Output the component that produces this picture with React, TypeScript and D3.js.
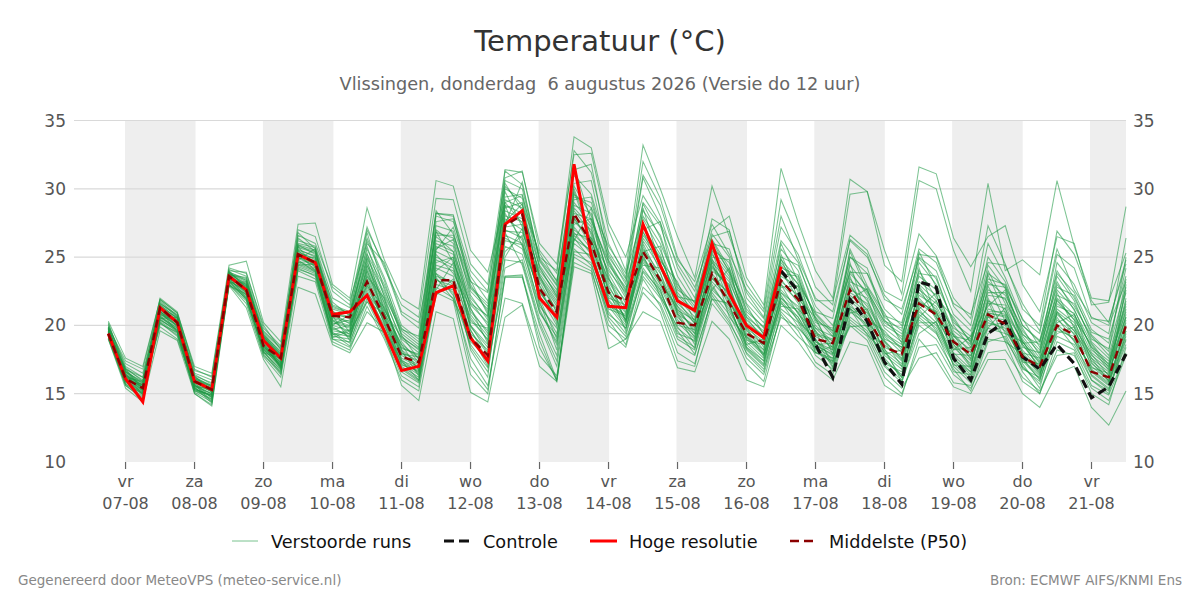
import React from "react";
import * as d3 from "d3";

const dayNames = ["vr","za","zo","ma","di","wo","do","vr","za","zo","ma","di","wo","do","vr"];
const dayDates = ["07-08","08-08","09-08","10-08","11-08","12-08","13-08","14-08","15-08","16-08","17-08","18-08","19-08","20-08","21-08"];
const yTicks = [10,15,20,25,30,35];
const shadedDays = [0,2,4,6,8,10,12,14];

const hres = [19.4,16.1,14.4,21.3,20.2,15.9,15.3,23.6,22.6,18.9,17.6,25.2,24.6,20.8,21.0,22.2,19.6,16.7,17.0,22.4,22.9,19.1,17.4,27.4,28.4,22.0,20.6,31.8,25.1,21.4,21.3,27.4,24.4,21.8,21.1,26.0,22.3,20.0,19.1,24.3];
const controlOffset = 39;
const control = [24.0,22.5,18.6,16.2,21.9,20.3,17.3,15.7,23.2,22.8,17.6,16.0,19.4,20.3,17.7,16.8,18.6,17.2,14.7,15.5,17.9];
const p50 = [19.4,16.1,15.4,21.3,20.2,15.9,15.3,23.6,22.6,18.5,17.6,25.2,24.6,20.7,20.6,23.2,20.6,17.7,17.3,23.3,23.3,19.1,17.8,27.3,28.1,22.7,21.0,28.2,26.0,22.4,21.8,25.4,23.3,20.2,20.0,23.8,21.6,19.4,18.7,23.3,21.9,19.0,18.7,22.6,20.6,18.4,17.9,21.6,20.8,18.8,17.9,20.8,20.1,17.7,17.0,20.0,19.3,16.6,16.2,20.0];

const m01 = [20.3,17.6,17.0,21.9,20.9,17.0,16.5,24.4,24.7,20.2,18.8,27.4,27.5,23.0,22.0,28.6,24.8,22.0,21.2,30.6,30.2,25.5,23.9,29.0,29.5,25.0,24.0,33.8,33.0,27.5,25.0,29.5,27.5,24.5,22.5,27.0,28.0,23.5,21.5,31.5,27.5,24.0,22.0,30.7,29.8,24.4,23.2,31.6,31.1,26.4,24.3,26.5,27.3,23.0,21.0,26.5,26.0,21.5,21.7,28.7];
const m02 = [19.9,17.2,16.5,21.5,20.5,16.5,16.0,24.2,23.8,20.0,18.2,27.0,26.5,22.5,21.5,27.2,24.2,21.5,20.6,29.3,29.2,24.5,23.0,31.4,31.2,26.0,24.5,32.5,32.6,27.0,24.0,33.2,30.0,26.5,23.5,30.2,26.5,23.0,21.2,29.2,26.2,22.8,21.5,29.6,29.8,25.5,22.3,30.6,30.0,25.5,22.5,30.4,24.0,24.8,23.7,30.6,25.8,22.0,21.8,25.3];
const m03 = [20.1,17.0,16.2,22.0,21.0,16.8,16.2,24.0,23.9,19.8,18.5,26.2,25.8,22.0,21.3,27.0,24.4,20.8,19.8,28.2,28.0,24.0,22.5,30.8,31.3,25.5,23.8,32.8,31.2,26.0,23.5,32.0,29.3,25.0,22.8,26.5,26.9,22.4,20.6,27.2,25.2,21.8,21.8,26.6,25.5,22.5,21.8,26.7,25.1,22.0,20.5,27.3,24.5,21.2,20.0,26.9,25.2,21.8,20.2,24.8];
const m04 = [19.7,16.8,16.0,21.0,20.2,16.3,15.8,23.8,23.3,19.4,18.0,26.0,25.7,21.5,21.0,26.4,23.5,20.0,19.0,28.0,27.6,23.6,21.8,30.2,28.8,25.3,23.2,31.4,31.8,25.2,23.0,30.8,28.0,24.2,22.0,27.8,27.0,22.0,20.5,26.2,24.6,21.0,20.5,26.3,25.2,21.9,21.2,25.2,25.0,21.4,20.0,26.0,23.5,20.4,19.4,25.2,24.2,20.5,20.3,24.5];
const m05 = [19.5,16.6,15.9,21.6,20.8,16.1,15.6,23.9,23.4,19.0,17.8,25.8,25.4,21.2,20.8,25.6,23.0,19.8,18.8,26.8,26.4,22.5,21.2,29.4,29.6,24.4,22.6,30.4,30.6,24.8,22.6,29.0,27.3,23.6,21.6,26.0,25.6,21.6,20.2,25.6,24.0,20.4,19.6,25.0,23.8,21.2,20.0,25.0,24.0,20.8,19.6,23.4,23.0,20.0,18.8,24.0,22.0,19.5,19.0,23.6];
const m06 = [19.6,16.4,15.6,21.1,20.4,16.0,15.4,23.7,23.5,19.2,17.9,25.9,25.2,20.4,20.0,25.0,22.4,19.4,18.4,28.2,28.1,23.0,21.0,31.3,30.3,24.9,23.3,29.6,28.6,25.8,23.8,28.0,26.0,23.0,21.4,26.3,24.2,21.2,19.8,24.8,23.4,20.6,19.2,24.4,22.8,20.6,19.6,24.6,23.0,20.4,18.8,23.0,22.8,20.5,18.4,22.2,21.6,19.0,18.3,22.8];
const m07 = [19.8,16.2,15.4,20.8,20.0,15.7,15.2,23.4,22.8,19.1,17.6,25.6,25.0,21.0,20.6,24.6,21.9,19.0,18.0,27.0,26.0,22.0,20.6,30.0,29.3,24.2,22.2,30.2,28.0,24.2,22.0,27.8,25.5,22.4,21.0,25.2,23.6,20.6,19.6,24.4,23.0,20.2,19.8,23.8,22.4,20.0,19.2,23.6,22.6,19.6,18.6,23.2,22.2,19.8,17.8,23.6,21.8,18.8,17.6,21.6];
const m08 = [19.3,16.0,15.2,21.2,20.1,15.5,15.0,23.5,22.6,18.6,17.3,25.4,24.8,20.2,19.8,24.2,21.4,18.4,17.8,25.8,25.2,21.5,20.2,29.2,28.6,23.6,21.8,29.0,27.4,23.8,21.6,26.8,25.0,22.0,20.6,24.8,23.4,20.0,19.0,23.6,22.8,19.8,18.6,23.4,21.8,19.4,18.6,23.0,21.8,19.2,18.2,22.2,22.0,19.0,17.4,22.0,20.8,18.4,17.4,21.0];
const m09 = [19.2,15.8,15.0,20.9,19.9,15.4,14.8,23.3,22.4,18.4,17.1,25.1,24.6,20.0,19.6,23.8,21.0,18.0,17.4,25.4,24.8,21.0,19.6,28.4,27.8,23.2,21.0,28.4,26.8,23.2,21.2,26.2,24.2,21.4,20.2,24.4,22.6,19.6,18.6,23.0,21.8,19.2,18.4,22.8,21.4,19.2,18.0,22.4,21.2,18.8,17.8,21.6,21.5,18.6,17.0,21.6,20.6,18.0,17.0,20.6];
const m10 = [19.6,16.5,15.5,20.6,19.7,15.9,15.1,23.2,22.2,18.8,17.4,24.9,24.4,20.5,20.2,23.4,20.6,17.6,17.0,24.8,24.2,20.4,19.0,27.8,27.0,22.6,20.4,27.8,26.2,22.8,21.0,25.6,23.8,21.0,19.8,23.8,22.2,19.2,18.2,22.4,21.4,18.8,18.0,22.0,20.9,18.8,17.6,22.0,20.6,18.4,17.2,21.2,20.8,18.2,16.8,21.0,20.0,17.6,16.6,20.2];
const m11 = [19.4,16.3,15.8,20.4,19.6,15.3,14.9,23.0,22.0,18.2,17.0,24.7,24.2,19.6,19.4,23.0,20.2,17.3,16.6,24.2,23.6,20.0,18.6,27.0,26.4,22.2,20.0,27.2,25.6,22.2,20.6,25.0,23.2,20.6,19.4,23.2,21.8,19.0,17.8,22.0,21.0,18.4,17.6,21.4,20.5,18.2,17.2,21.4,20.2,18.0,16.8,20.6,20.4,17.8,16.4,20.4,19.4,17.2,16.2,19.6];
const m12 = [19.1,15.9,14.9,20.7,19.8,15.2,14.6,23.1,22.1,18.0,16.8,24.5,24.0,19.2,19.0,22.6,19.8,17.0,16.2,23.6,23.2,19.4,18.2,26.4,25.6,21.6,19.4,26.8,25.2,21.8,20.2,24.6,22.8,20.2,19.0,22.8,21.2,18.6,17.4,21.6,20.6,18.2,17.2,21.0,20.1,17.8,16.8,20.8,19.8,17.6,16.4,20.2,19.8,17.4,16.1,19.8,19.0,16.8,15.8,19.0];
const m13 = [19.0,15.6,14.6,20.3,19.4,15.1,14.4,23.0,21.8,17.8,16.6,24.3,23.8,19.0,18.8,22.0,19.4,16.6,15.8,23.0,22.6,18.8,17.6,25.8,25.2,21.0,18.8,26.4,24.8,21.4,19.8,24.2,22.4,19.8,18.8,22.4,20.8,18.2,17.0,21.2,20.2,17.8,16.8,20.6,19.6,17.4,16.4,20.4,19.4,17.2,16.0,19.8,19.4,17.0,15.7,19.2,18.6,16.4,15.4,18.6];
const m14 = [19.0,15.4,14.4,19.6,18.9,15.0,14.1,22.9,21.3,17.5,15.5,22.8,22.3,18.6,18.0,20.2,19.5,15.6,14.5,21.0,20.5,15.1,14.4,20.6,21.5,17.0,15.9,24.3,23.8,18.3,19.0,21.0,20.3,16.9,16.6,20.3,19.0,16.0,15.5,20.0,18.8,17.0,16.0,18.8,18.5,15.6,14.8,19.0,17.5,15.5,15.0,17.5,17.5,15.0,14.0,16.5,17.0,14.0,12.7,15.2];
const m15 = [19.2,15.6,14.7,20.5,19.5,15.0,14.2,23.0,21.6,17.7,16.2,23.6,23.2,18.8,18.2,21.4,19.0,16.0,15.2,22.4,21.8,16.4,15.0,23.6,23.7,18.4,16.0,25.2,24.6,20.4,18.6,23.4,21.4,18.0,17.2,21.6,20.0,17.2,15.9,21.0,19.6,17.3,16.4,20.2,19.2,16.6,15.4,17.6,18.0,15.8,15.6,19.0,18.8,15.9,15.0,18.2,17.8,15.4,14.5,17.8];
const m16 = [19.3,15.9,15.1,20.2,19.2,15.3,14.5,23.2,21.9,18.3,16.9,24.0,23.4,19.4,18.5,21.8,19.2,16.3,15.5,22.8,22.0,17.6,15.6,22.0,21.6,17.8,16.3,24.6,24.0,20.0,19.0,22.4,21.0,17.4,17.0,22.2,20.4,17.6,16.4,20.8,19.2,18.0,17.6,20.0,18.9,16.2,15.0,18.4,18.6,16.4,15.4,18.0,18.2,16.2,15.2,17.8,18.0,15.0,14.2,18.4];
const m17 = [19.5,16.1,15.3,21.4,20.3,15.6,15.0,23.6,22.9,18.9,17.5,25.0,24.5,19.8,19.2,22.3,20.0,17.2,16.4,25.0,24.4,19.2,17.2,23.6,23.6,19.4,16.0,25.6,24.4,20.8,19.8,23.6,22.0,19.0,18.2,22.6,21.4,18.4,17.2,22.4,20.9,18.6,17.8,21.2,20.4,17.6,16.2,21.6,20.8,17.0,15.8,19.4,20.0,17.2,15.4,20.0,18.4,16.0,15.0,19.4];
const m18 = [19.8,16.7,15.7,21.7,20.6,16.2,15.5,23.4,23.0,19.3,18.1,25.3,24.9,20.6,20.3,24.0,21.2,18.6,17.6,26.0,25.4,21.8,20.0,26.6,26.0,22.4,20.8,28.0,27.0,22.6,20.4,26.4,24.6,21.2,19.6,24.2,22.8,19.8,18.8,23.2,22.2,19.6,18.2,23.0,21.0,19.0,18.4,22.2,21.4,19.0,17.6,21.8,21.2,18.8,17.2,21.2,20.2,17.8,16.8,22.0];
const m19 = [20.0,16.9,15.9,21.8,20.7,16.4,15.7,23.7,23.1,19.5,18.3,25.5,25.1,20.9,20.5,24.4,21.6,18.2,17.2,27.6,27.8,22.8,21.6,28.8,28.2,23.8,22.0,27.6,26.4,24.0,22.4,27.2,25.2,21.6,20.4,25.6,24.6,20.8,19.4,26.0,23.2,20.8,19.4,25.0,24.2,20.4,19.0,23.8,23.6,20.0,18.4,24.0,21.6,19.4,18.0,24.6,23.0,20.2,19.4,26.4];
const m20 = [19.4,16.0,15.0,21.0,20.0,15.8,15.3,23.3,22.5,18.7,17.2,25.2,24.7,20.3,19.9,23.6,20.8,17.8,17.1,24.4,24.0,20.6,18.9,27.2,27.4,22.9,20.2,28.6,27.2,22.4,20.9,24.9,23.0,20.4,19.2,23.4,22.4,19.4,18.0,23.4,21.6,18.8,18.2,22.2,21.2,18.6,17.4,21.8,20.9,18.6,17.4,20.9,20.7,18.0,16.6,20.8,19.6,17.4,16.4,21.2];
const m21 = [19.7,16.6,15.6,20.6,19.8,15.6,14.7,23.5,22.7,18.5,17.0,24.6,24.1,19.4,19.2,23.2,20.4,18.0,16.8,23.8,23.0,18.4,16.6,24.8,24.6,20.2,17.4,26.0,25.0,21.0,19.4,24.0,22.6,19.2,18.4,23.0,21.0,18.8,17.6,21.8,20.4,18.0,17.4,21.6,19.9,17.2,16.6,21.0,20.0,17.8,16.6,20.4,19.6,17.6,16.0,19.6,19.2,16.6,15.6,20.0];
const m22 = [19.3,16.3,15.2,21.3,20.2,16.0,15.4,23.8,23.2,18.9,17.7,25.0,24.3,21.4,20.9,25.2,22.8,19.2,18.2,26.2,25.8,20.8,19.2,28.0,27.6,24.0,22.4,29.2,29.4,24.6,22.2,28.4,26.6,22.8,21.2,25.0,24.8,20.2,19.2,23.8,22.6,19.4,19.0,24.0,22.2,19.8,18.8,23.2,22.2,19.4,18.0,22.6,21.9,19.2,17.6,22.6,21.2,18.2,17.2,21.4];
const m23 = [19.6,16.4,15.4,19.9,19.0,15.5,14.3,23.6,22.3,17.9,16.4,24.2,23.6,19.0,18.4,21.0,19.7,17.4,16.0,23.4,22.4,17.0,15.3,23.5,23.5,18.9,15.9,25.0,24.2,19.6,18.4,22.8,21.6,18.6,17.8,22.0,20.2,18.0,16.8,20.6,19.8,18.4,16.6,20.4,19.4,17.0,15.8,20.0,19.0,16.8,15.2,18.8,19.2,16.6,15.0,18.8,18.2,15.6,14.9,18.0];
const m24 = [19.9,17.4,16.8,21.9,20.9,16.7,16.3,24.1,23.6,19.6,18.4,26.6,26.0,22.8,21.8,26.0,24.6,21.0,20.2,26.6,26.6,23.2,22.4,30.6,30.0,24.8,23.0,31.0,29.6,25.4,23.4,31.0,28.8,24.8,23.2,27.4,25.2,22.6,21.0,28.0,24.8,22.0,21.0,26.2,25.0,22.2,20.8,25.6,24.6,21.6,20.8,24.6,24.4,21.6,19.6,25.6,22.6,20.6,20.0,23.2];
const m25 = [19.5,16.2,15.5,20.2,19.3,15.4,14.8,23.4,22.2,18.1,16.7,24.4,23.9,19.9,19.1,22.8,20.3,17.5,16.5,23.3,22.9,19.6,17.9,26.2,25.9,20.9,19.2,26.6,25.4,21.6,20.0,25.3,23.5,20.8,18.6,23.5,21.9,19.2,17.9,21.4,21.2,18.5,17.9,21.8,20.7,18.0,17.0,21.2,19.6,17.4,16.2,20.0,20.2,17.5,16.3,20.6,18.8,17.0,16.0,19.2];
const m26 = [19.8,16.8,16.2,21.4,20.4,16.2,15.6,23.6,23.0,19.2,17.8,25.7,25.3,21.7,20.7,24.9,22.2,19.6,18.6,27.3,26.9,22.2,20.4,28.6,29.0,23.4,21.4,28.8,28.2,23.4,21.8,26.6,24.9,22.2,20.9,24.6,23.2,20.4,19.2,25.2,22.4,20.0,18.8,23.2,22.6,20.2,19.4,22.6,21.6,19.8,19.0,22.4,22.4,19.6,18.2,23.0,21.4,19.2,17.8,22.4];
const m27 = [19.7,16.3,15.6,21.5,20.5,15.3,14.9,23.9,22.8,18.2,17.2,25.9,25.5,20.1,20.4,25.8,22.1,18.8,17.3,25.6,26.3,21.2,19.4,29.8,27.2,22.9,21.2,27.4,27.8,24.4,22.8,24.4,24.2,21.8,20.1,25.9,24.0,20.1,18.4,23.8,23.6,19.3,18.9,24.6,20.4,19.6,18.2,24.2,20.6,18.2,19.2,21.4,22.6,18.4,18.0,21.8,20.4,18.6,16.9,22.6];
const m28 = [19.2,15.7,14.8,20.8,20.3,15.7,14.4,23.8,22.5,18.6,16.9,24.8,25.6,20.7,18.9,24.4,21.7,17.9,17.7,24.6,25.0,19.9,18.4,27.6,28.9,21.4,19.8,30.0,26.6,23.0,20.4,26.0,23.4,21.1,20.4,24.0,23.0,18.9,18.6,22.8,22.9,19.0,17.4,22.6,22.0,18.4,17.8,20.6,21.8,18.9,17.0,22.0,19.4,18.8,17.3,22.4,19.8,17.9,16.3,20.8];
const m29 = [19.9,16.0,15.1,21.1,19.5,16.1,15.5,23.1,23.2,18.0,17.6,25.3,24.0,21.1,19.5,24.8,20.5,18.3,17.9,25.2,23.8,21.3,18.7,26.9,26.8,23.7,20.9,27.0,26.0,22.0,21.5,26.9,23.9,20.0,19.7,24.9,21.7,19.9,17.7,24.0,21.9,20.6,17.9,21.9,22.7,18.9,17.5,22.8,20.4,19.3,17.5,23.7,20.9,18.9,16.7,21.4,20.9,17.3,15.9,23.0];
const m30 = [19.4,16.7,15.3,20.5,20.6,15.9,15.6,23.4,22.9,18.4,17.5,25.8,24.2,20.9,20.1,23.6,22.0,17.4,16.9,26.5,25.4,20.2,19.8,25.4,26.6,22.0,19.0,28.2,27.8,23.6,20.2,25.4,25.8,20.9,19.1,25.4,22.0,18.6,19.0,22.6,21.2,19.8,19.2,22.4,21.6,19.3,18.4,21.2,22.4,18.2,18.4,21.0,21.0,18.0,17.6,20.2,20.8,18.4,16.7,21.8];
const m31 = [19.6,15.9,15.7,21.2,19.9,15.6,15.2,23.7,22.4,19.0,16.8,24.9,25.0,19.7,20.0,22.9,21.3,18.2,16.3,24.0,25.0,19.7,17.4,28.8,25.8,22.5,20.6,26.2,28.6,21.4,20.8,28.6,24.4,20.8,20.0,22.6,24.2,19.7,18.2,24.9,22.0,18.0,18.5,23.6,20.2,18.8,17.0,22.9,21.0,18.6,16.9,22.9,20.3,18.6,16.9,21.9,20.4,16.9,16.5,20.6];
const m32 = [19.5,16.5,14.9,20.9,20.0,15.2,14.9,23.5,22.0,18.3,17.3,24.6,24.7,20.4,19.3,24.0,20.9,18.6,16.7,22.6,24.6,20.0,18.0,25.0,27.1,21.8,18.2,27.9,25.8,22.6,19.6,25.8,23.0,21.4,19.4,24.3,22.9,18.4,17.4,23.0,20.8,19.6,17.0,20.9,21.2,17.9,18.2,21.7,21.0,17.9,17.8,19.8,21.3,17.3,17.2,20.9,19.6,17.6,15.9,19.8];
const m33 = [19.3,16.2,15.9,20.7,19.6,15.8,14.7,23.2,22.6,18.7,17.0,24.8,23.9,19.3,19.7,23.3,20.1,16.9,16.0,23.8,22.2,18.6,16.9,24.2,24.8,20.5,17.8,26.7,26.4,21.9,20.4,24.8,22.6,19.4,18.9,23.7,21.5,18.3,17.1,22.2,20.3,19.0,16.9,21.2,19.3,18.1,16.2,20.2,20.2,17.1,17.0,21.8,18.8,17.9,16.5,19.4,19.9,16.3,15.3,18.9];
const m34 = [19.7,16.4,15.2,21.0,20.2,15.5,15.4,23.8,23.0,19.1,17.7,25.5,24.4,20.0,20.8,25.3,21.1,19.1,18.3,26.9,24.6,21.6,20.7,29.0,27.5,23.5,21.6,29.8,26.2,23.4,21.3,27.5,24.7,23.2,20.2,25.5,23.8,20.6,18.9,24.2,23.7,20.4,18.3,25.6,22.9,20.9,18.7,25.4,22.8,19.2,18.9,24.4,22.7,19.3,18.6,23.2,21.1,18.7,17.1,23.4];
const m35 = [20.2,16.6,15.8,21.6,20.7,16.3,15.1,23.9,23.3,19.3,17.9,26.4,25.4,21.3,20.9,26.8,22.6,19.7,19.2,28.4,26.7,22.7,21.4,27.4,30.5,24.7,22.9,31.6,27.6,24.7,22.5,28.9,26.4,22.6,21.7,26.7,25.0,21.0,19.9,25.0,24.4,21.4,20.0,23.9,23.8,20.7,20.2,24.9,23.4,20.2,19.2,25.0,23.2,20.0,18.9,23.8,22.4,19.7,18.7,24.2];
const m36 = [19.1,15.7,15.0,20.4,19.7,15.4,14.6,23.3,21.9,18.1,16.5,24.1,23.7,19.5,18.7,22.4,20.6,16.8,15.9,22.2,23.4,18.2,16.2,26.8,24.4,20.0,17.0,25.4,25.2,20.6,19.2,23.9,22.2,19.6,17.9,21.9,21.6,17.9,16.6,21.7,19.9,18.3,17.3,19.9,20.0,17.1,16.0,20.6,19.5,16.6,16.4,20.7,19.0,16.9,15.9,20.1,18.9,16.0,15.2,19.6];
const m37 = [19.8,16.1,15.5,20.1,19.5,15.6,15.0,22.9,22.3,18.5,17.1,24.4,24.5,19.1,19.6,21.7,20.9,17.1,16.7,23.5,21.9,19.3,17.0,28.2,26.2,21.2,18.6,26.3,25.5,21.2,20.7,25.2,22.1,19.9,18.3,24.7,20.6,19.1,17.9,22.0,20.6,18.6,18.7,21.3,19.8,18.3,15.9,19.4,20.3,17.5,16.6,20.9,20.6,16.8,16.2,21.0,19.3,16.7,15.7,20.4];
const m38 = [19.4,16.8,15.4,21.3,20.6,16.1,15.3,24.0,22.7,19.2,17.7,26.8,25.6,20.8,20.6,26.2,23.3,19.3,17.5,25.5,27.2,23.3,20.8,30.4,28.4,24.3,22.1,29.4,29.0,25.0,23.2,27.0,27.6,22.1,21.8,26.2,23.9,21.5,19.3,24.6,23.0,20.9,19.6,25.4,22.5,20.3,19.8,24.0,22.0,20.6,18.7,23.8,22.9,18.7,18.8,22.8,22.2,19.3,18.1,25.0];
const members = [m01,m02,m03,m04,m05,m06,m07,m08,m09,m10,m11,m12,m13,m14,m15,m16,m17,m18,m19,m20,m21,m22,m23,m24,m25,m26,m27,m28,m29,m30,m31,m32,m33,m34,m35,m36,m37,m38];

const W = 1200, H = 600;
const FONT = "'DejaVu Sans', sans-serif";
const x = d3.scaleLinear().domain([0, 59]).range([108.3, 1126]);
const y = d3.scaleLinear().domain([10, 35]).range([462, 120.5]);
const dayIndex = (d: number) => 1 + d * 4;
const line = d3.line<number>().x((_, i) => x(i)).y((v) => y(v));
const controlLine = d3.line<number>().x((_, i) => x(i + controlOffset)).y((v) => y(v));

const legendY = 541;
const GREEN = "#1f9a45";

export default function App() {
  return (
    <svg width={W} height={H} viewBox={`0 0 ${W} ${H}`} style={{ position: "absolute", left: 0, top: 0, background: "#fff", fontFamily: FONT }}>
      {shadedDays.map((d) => {
        const x0 = x(dayIndex(d)) - 0.5 - d * 0.07;
        const x1 = Math.min(x0 + 70.5, x.range()[1]);
        return <rect key={d} x={x0} y={120.5} width={x1 - x0} height={341.5} fill="#eeeeee" />;
      })}
      {yTicks.map((t) => (
        <g key={t}>
          {t > 10 && <line x1={74} x2={1126} y1={y(t)} y2={y(t)} stroke="#d9d9d9" strokeWidth={1.2} />}
          <text x={66} y={y(t) + 6} textAnchor="end" fontSize={17} fill="#555">{t}</text>
          <text x={1133} y={y(t) + 6} fontSize={17} fill="#555">{t}</text>
        </g>
      ))}
      {dayNames.map((n, d) => {
        const px = x(dayIndex(d));
        return (
          <g key={d}>
            <line x1={px} x2={px} y1={462} y2={469} stroke="#666" strokeWidth={1.2} />
            <text x={px} y={487} textAnchor="middle" fontSize={16} fill="#555">{n}</text>
            <text x={px} y={509} textAnchor="middle" fontSize={16} fill="#555">{dayDates[d]}</text>
          </g>
        );
      })}
      {members.map((m, i) => (
        <path key={i} d={line(m) ?? ""} fill="none" stroke={GREEN} strokeOpacity={0.58} strokeWidth={1.05} />
      ))}
      <path d={controlLine(control) ?? ""} fill="none" stroke="#111" strokeWidth={3.2} strokeDasharray="9 5" />
      <path d={line(hres) ?? ""} fill="none" stroke="#ff0000" strokeWidth={3} />
      <path d={line(p50) ?? ""} fill="none" stroke="#8b0000" strokeWidth={2.4} strokeDasharray="8 5" />

      <text x={600} y={51} textAnchor="middle" fontSize={29} fill="#333">Temperatuur (°C)</text>
      <text x={600} y={90} textAnchor="middle" fontSize={17.7} fill="#666" style={{ whiteSpace: "pre" }}>Vlissingen, donderdag  6 augustus 2026 (Versie do 12 uur)</text>

      <line x1={232} x2={258} y1={541} y2={541} stroke={GREEN} strokeOpacity={0.6} strokeWidth={1} />
      <text x={271} y={legendY + 6.5} fontSize={17.7} fill="#111">Verstoorde runs</text>
      <line x1={444} x2={471} y1={541} y2={541} stroke="#111" strokeWidth={3.2} strokeDasharray="10 5" />
      <text x={483} y={legendY + 6.5} fontSize={17.7} fill="#111">Controle</text>
      <line x1={590} x2={617} y1={541} y2={541} stroke="#ff0000" strokeWidth={3} />
      <text x={629} y={legendY + 6.5} fontSize={17.7} fill="#111">Hoge resolutie</text>
      <line x1={790} x2={814} y1={541} y2={541} stroke="#8b0000" strokeWidth={2.4} strokeDasharray="9 5" />
      <text x={829} y={legendY + 6.5} fontSize={17.7} fill="#111">Middelste (P50)</text>

      <text x={18} y={585} fontSize={13.5} fill="#888">Gegenereerd door MeteoVPS (meteo-service.nl)</text>
      <text x={1182} y={585} textAnchor="end" fontSize={13.5} fill="#888">Bron: ECMWF AIFS/KNMI Ens</text>
    </svg>
  );
}
